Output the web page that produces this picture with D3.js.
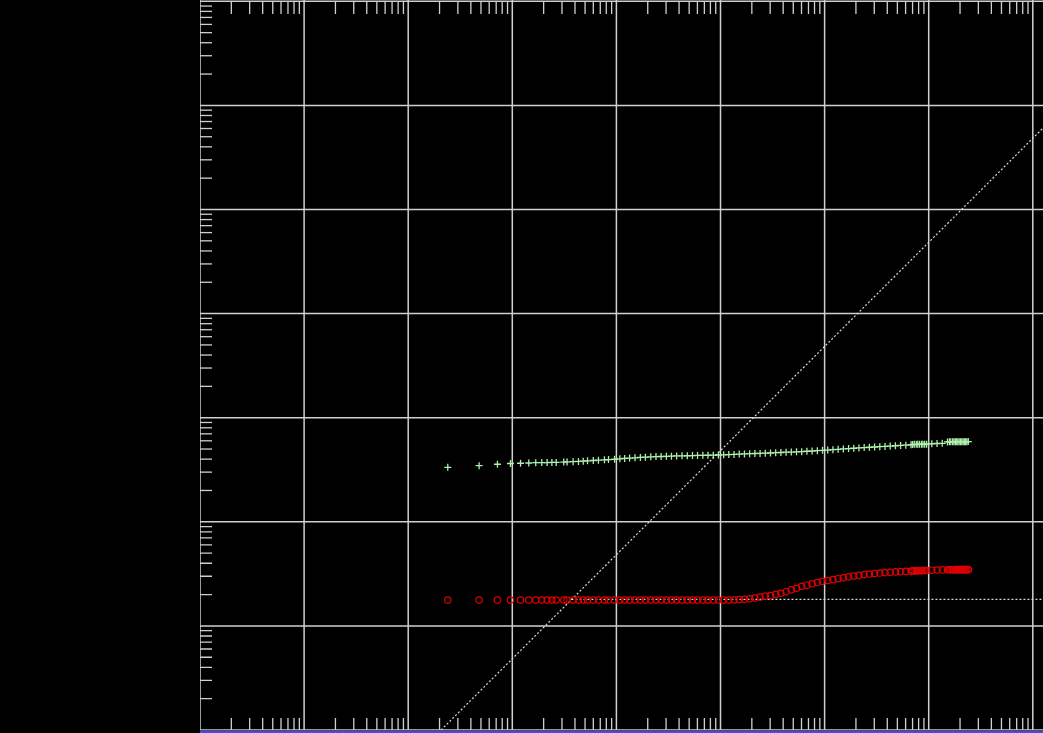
<!DOCTYPE html>
<html>
<head>
<meta charset="utf-8">
<script src="https://cdn.jsdelivr.net/npm/d3@7"></script>
<style>
  html, body { margin: 0; padding: 0; background: #000; overflow: hidden; }
</style>
</head>
<body>
<div id="chart"></div>
<script>
// averaging times
const taus = [
  2.4, 4.8, 7.2, 9.6, 12, 14.4, 16.8, 19.2, 21.6, 24,
  26.4, 31.2, 33.6, 38.4, 43.2, 48, 52.8, 60, 67.2, 76.8,
  84, 96, 108, 120, 134, 151, 170, 190, 214, 240,
  269, 302, 338, 379, 427, 480, 538, 602, 677, 758,
  852, 955, 1073, 1202, 1349, 1514, 1699, 1906, 2141, 2400,
  2693, 3022, 3391, 3804, 4267, 4788, 5374, 6029, 6763, 7589,
  8515, 9554, 10721, 12029, 13495, 15144, 16990, 19063, 21391, 24000,
  26930, 30214, 33900, 38040, 42682, 47892, 53730, 60286, 67642, 70000,
  72700, 75900, 78500, 81500, 85163, 88000, 91500, 95544, 107203, 120286,
  134959, 151430, 158000, 163000, 169901, 175000, 180500, 186000, 190634, 196000,
  202000, 208000, 213900, 220000, 226500, 233000, 240000
];

// green "+" series
const greenDev = [
  3.34, 3.46, 3.57, 3.63, 3.65, 3.67, 3.70, 3.71, 3.71, 3.72,
  3.72, 3.75, 3.76, 3.78, 3.80, 3.82, 3.85, 3.88, 3.91, 3.94,
  3.96, 3.99, 4.03, 4.06, 4.09, 4.12, 4.15, 4.18, 4.21, 4.23,
  4.24, 4.26, 4.27, 4.29, 4.30, 4.31, 4.33, 4.34, 4.35, 4.36,
  4.37, 4.38, 4.40, 4.42, 4.44, 4.47, 4.49, 4.51, 4.53, 4.54,
  4.56, 4.58, 4.61, 4.63, 4.66, 4.68, 4.70, 4.72, 4.76, 4.79,
  4.82, 4.86, 4.89, 4.93, 4.97, 5.01, 5.05, 5.09, 5.13, 5.16,
  5.20, 5.23, 5.27, 5.30, 5.34, 5.38, 5.41, 5.45, 5.50, 5.52,
  5.55, 5.55, 5.55, 5.56, 5.56, 5.56, 5.57, 5.57, 5.62, 5.65,
  5.67, 5.85, 5.86, 5.86, 5.87, 5.87, 5.87, 5.88, 5.88, 5.88,
  5.88, 5.89, 5.89, 5.89, 5.89, 5.89, 5.90
];

// red "o" series
const redDev = [
  0.177, 0.177, 0.177, 0.177, 0.177, 0.177, 0.177, 0.177, 0.177, 0.177,
  0.177, 0.177, 0.177, 0.177, 0.177, 0.177, 0.177, 0.177, 0.177, 0.177,
  0.177, 0.177, 0.177, 0.177, 0.177, 0.177, 0.177, 0.177, 0.177, 0.177,
  0.177, 0.177, 0.177, 0.177, 0.177, 0.177, 0.177, 0.177, 0.177, 0.177,
  0.177, 0.177, 0.177, 0.177, 0.178, 0.179, 0.180, 0.182, 0.185, 0.189,
  0.193, 0.196, 0.201, 0.206, 0.213, 0.222, 0.230, 0.240, 0.246, 0.254,
  0.261, 0.268, 0.273, 0.278, 0.284, 0.290, 0.296, 0.301, 0.306, 0.311,
  0.315, 0.319, 0.322, 0.325, 0.327, 0.330, 0.332, 0.334, 0.336, 0.337,
  0.337, 0.338, 0.338, 0.339, 0.339, 0.340, 0.340, 0.341, 0.343, 0.344,
  0.345, 0.346, 0.346, 0.346, 0.346, 0.346, 0.347, 0.347, 0.347, 0.347,
  0.347, 0.347, 0.347, 0.347, 0.347, 0.347, 0.347
];

// reference guide lines
const slopeLine = [[2.07, 0.01], [2.07e7, 1e5]];
const floorLine = [[37, 0.18], [1e8, 0.18]];

const xDecades = [1e-2, 1e-1, 1e0, 1e1, 1e2, 1e3, 1e4, 1e5, 1e6, 1e7];
const yDecades = [1e-2, 1e-1, 1e0, 1e1, 1e2, 1e3, 1e4, 1e5];

const width = 1043;
const height = 733;
const decade = 104.1;
const left = 200;
const bottom = 730;
const gridColor = '#d0d0d0';

const svg = d3.select('#chart').append('svg')
  .attr('width', width)
  .attr('height', height)
  .style('display', 'block')
  .style('background', '#000');

const x = d3.scaleLog().domain([1e-2, 1e7]).range([left, left + 9 * decade]);
const y = d3.scaleLog().domain([1e-2, 1e5]).range([bottom, bottom - 7 * decade]);

svg.append('clipPath').attr('id', 'plot')
  .append('rect')
  .attr('x', left).attr('y', 0)
  .attr('width', width - left).attr('height', bottom + 0.5);

const g = svg.append('g').attr('clip-path', 'url(#plot)');

// major grid
g.append('g').selectAll('line')
  .data(xDecades).enter().append('line')
  .attr('x1', d => x(d)).attr('x2', d => x(d))
  .attr('y1', 0).attr('y2', bottom)
  .attr('stroke', gridColor).attr('stroke-width', 1.5);

g.append('g').selectAll('line')
  .data(yDecades).enter().append('line')
  .attr('x1', left).attr('x2', width)
  .attr('y1', d => y(d)).attr('y2', d => y(d))
  .attr('stroke', gridColor).attr('stroke-width', 1.5);

// minor ticks
const isDecade = v => Math.abs(Math.log10(v) - Math.round(Math.log10(v))) < 1e-6;
const xMinor = x.ticks(20).filter(v => !isDecade(v));
const yMinor = y.ticks(20).filter(v => !isDecade(v));

[[2, 14], [bottom - 12, bottom]].forEach(([y1, y2]) => {
  g.append('g').selectAll('line')
    .data(xMinor).enter().append('line')
    .attr('x1', d => x(d)).attr('x2', d => x(d))
    .attr('y1', y1).attr('y2', y2)
    .attr('stroke', gridColor).attr('stroke-width', 1.3);
});

g.append('g').selectAll('line')
  .data(yMinor).enter().append('line')
  .attr('x1', left).attr('x2', left + 12)
  .attr('y1', d => y(d)).attr('y2', d => y(d))
  .attr('stroke', gridColor).attr('stroke-width', 1.3);

// dotted guide lines
const line = d3.line().x(d => x(d[0])).y(d => y(d[1]));
[slopeLine, floorLine].forEach(pts => {
  g.append('path')
    .attr('d', line(pts))
    .attr('fill', 'none')
    .attr('stroke', '#d8d8d8')
    .attr('stroke-width', 1.2)
    .attr('stroke-dasharray', '2,2');
});

// red circles
g.append('g').selectAll('circle')
  .data(taus).enter().append('circle')
  .attr('cx', d => x(d))
  .attr('cy', (d, i) => y(redDev[i]))
  .attr('r', 3.2)
  .attr('fill', 'none')
  .attr('stroke', '#e00000')
  .attr('stroke-width', 1.2);

// green plus marks
g.append('g').selectAll('path')
  .data(taus).enter().append('path')
  .attr('transform', (d, i) => `translate(${x(d)},${y(greenDev[i])})`)
  .attr('d', 'M-3.5,0H3.5M0,-3.5V3.5')
  .attr('stroke', '#aef0ae')
  .attr('stroke-width', 1.3);

// blue strip under the axis
svg.append('rect')
  .attr('x', left).attr('y', bottom + 1)
  .attr('width', width - left).attr('height', 2)
  .attr('fill', '#4646ff');
</script>
</body>
</html>
